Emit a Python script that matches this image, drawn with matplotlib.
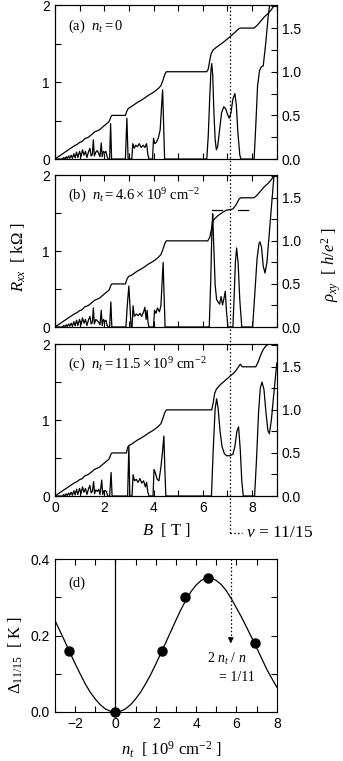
import matplotlib
matplotlib.use("Agg")
import matplotlib.pyplot as plt
from matplotlib.ticker import MultipleLocator
from matplotlib.lines import Line2D

plt.rcParams['font.family'] = ['Liberation Sans', 'DejaVu Sans']
plt.rcParams['font.size'] = 10
plt.rcParams['mathtext.fontset'] = 'custom'
plt.rcParams['mathtext.rm'] = 'Liberation Serif'
plt.rcParams['mathtext.it'] = 'Liberation Serif:italic'
plt.rcParams['mathtext.bf'] = 'Liberation Serif:bold'
plt.rcParams['axes.linewidth'] = 0.8

SERIF = ['Liberation Serif', 'DejaVu Serif']

# ---- data: (B [T], value) pairs ----
# Rxx [kOhm], common low-field part
rxx_low = [(0.0, 0.0), (0.3, 0.0), (0.36, 0.02), (0.4, 0.0), (0.46, 0.03), (0.5, 0.005),
           (0.56, 0.04), (0.6, 0.01), (0.66, 0.05), (0.71, 0.01), (0.77, 0.07), (0.82, 0.015),
           (0.88, 0.09), (0.93, 0.02), (1.0, 0.1), (1.06, 0.03), (1.12, 0.12), (1.18, 0.05),
           (1.24, 0.1), (1.3, 0.02), (1.36, 0.09), (1.42, 0.14), (1.47, 0.04), (1.52, 0.06)]

rxx_a = rxx_low + [
    (1.56, 0.25), (1.6, 0.04), (1.66, 0.09), (1.72, 0.11), (1.78, 0.07), (1.83, 0.03),
    (1.88, 0.21), (1.92, 0.03), (1.97, 0.1), (2.02, 0.08), (2.07, 0.1), (2.12, 0.03),
    (2.16, 0.0), (2.22, 0.0), (2.26, 0.46), (2.3, 0.0), (2.86, 0.0), (2.92, 0.53),
    (2.97, 0.0), (3.12, 0.0), (3.16, 0.2), (3.22, 0.14), (3.28, 0.18), (3.35, 0.16),
    (3.42, 0.2), (3.5, 0.15), (3.58, 0.18), (3.65, 0.15), (3.72, 0.2), (3.77, 0.06),
    (3.82, 0.0), (3.96, 0.0), (4.0, 0.27), (4.05, 0.2), (4.12, 0.22), (4.2, 0.28),
    (4.27, 0.38), (4.32, 0.65), (4.37, 0.9), (4.41, 0.45), (4.45, 0.0), (6.16, 0.0),
    (6.22, 0.3), (6.28, 0.8), (6.33, 1.15), (6.36, 1.24), (6.4, 1.1), (6.45, 0.6),
    (6.5, 0.25), (6.55, 0.12), (6.6, 0.16), (6.68, 0.38), (6.76, 0.6), (6.85, 0.68),
    (6.93, 0.65), (7.0, 0.58), (7.07, 0.53), (7.14, 0.6), (7.22, 0.78), (7.3, 0.85),
    (7.36, 0.7), (7.42, 0.35), (7.5, 0.05), (7.55, 0.0), (8.08, 0.0), (8.15, 0.45),
    (8.22, 0.95), (8.3, 1.15), (8.38, 1.2), (8.45, 1.21), (8.55, 1.5), (8.65, 1.85),
    (8.75, 2.1)]

rxx_b = rxx_low + [
    (1.56, 0.25), (1.6, 0.04), (1.66, 0.1), (1.72, 0.08), (1.78, 0.06), (1.83, 0.03),
    (1.88, 0.22), (1.92, 0.02), (1.97, 0.1), (2.02, 0.07), (2.07, 0.09), (2.12, 0.02),
    (2.16, 0.0), (2.22, 0.0), (2.27, 0.33), (2.31, 0.0), (2.88, 0.0), (2.94, 0.3),
    (3.0, 0.54), (3.05, 0.25), (3.09, 0.0), (3.13, 0.0), (3.17, 0.28), (3.22, 0.14),
    (3.3, 0.17), (3.38, 0.15), (3.45, 0.18), (3.52, 0.14), (3.6, 0.2), (3.65, 0.26),
    (3.7, 0.1), (3.74, 0.22), (3.78, 0.05), (3.82, 0.0), (4.0, 0.0), (4.04, 0.22),
    (4.1, 0.18), (4.16, 0.25), (4.24, 0.2), (4.3, 0.28), (4.35, 0.6), (4.39, 0.85),
    (4.43, 0.4), (4.47, 0.0), (6.26, 0.0), (6.32, 0.6), (6.37, 1.3), (6.4, 1.49),
    (6.44, 1.1), (6.5, 0.55), (6.56, 0.36), (6.62, 0.33), (6.68, 0.3), (6.74, 0.4),
    (6.8, 0.29), (6.86, 0.38), (6.91, 0.47), (6.96, 0.2), (7.02, 0.0), (7.22, 0.0),
    (7.27, 0.4), (7.32, 0.85), (7.37, 1.04), (7.43, 0.85), (7.5, 0.35), (7.58, 0.0),
    (8.02, 0.0), (8.1, 0.4), (8.2, 0.9), (8.28, 1.1), (8.32, 1.12), (8.38, 1.05),
    (8.45, 0.8), (8.52, 0.71), (8.6, 0.85), (8.7, 1.25), (8.8, 1.65), (8.9, 2.05)]

rxx_c = rxx_low + [
    (1.57, 0.19), (1.61, 0.03), (1.66, 0.08), (1.72, 0.06), (1.78, 0.09), (1.83, 0.02),
    (1.9, 0.21), (1.94, 0.02), (1.99, 0.07), (2.04, 0.07), (2.09, 0.06), (2.14, 0.0),
    (2.22, 0.0), (2.28, 0.31), (2.32, 0.0), (2.95, 0.0), (3.0, 0.65), (3.04, 0.0),
    (3.13, 0.0), (3.17, 0.28), (3.23, 0.2), (3.3, 0.22), (3.37, 0.18), (3.45, 0.23),
    (3.52, 0.17), (3.6, 0.2), (3.67, 0.12), (3.72, 0.18), (3.77, 0.05), (3.82, 0.0),
    (3.98, 0.0), (4.02, 0.35), (4.08, 0.3), (4.15, 0.22), (4.22, 0.2), (4.3, 0.38),
    (4.37, 0.6), (4.42, 0.79), (4.46, 0.35), (4.5, 0.0), (6.35, 0.0), (6.42, 0.6),
    (6.5, 1.15), (6.56, 1.28), (6.62, 1.15), (6.7, 0.85), (6.78, 0.65), (6.87, 0.56),
    (6.96, 0.53), (7.1, 0.53), (7.22, 0.55), (7.3, 0.65), (7.38, 0.85), (7.45, 0.91),
    (7.52, 0.6), (7.58, 0.2), (7.64, 0.0), (8.1, 0.0), (8.18, 0.5), (8.26, 1.1),
    (8.33, 1.42), (8.4, 1.5), (8.48, 1.4), (8.56, 1.1), (8.64, 0.86), (8.7, 0.82),
    (8.78, 1.0), (8.88, 1.35), (9.0, 1.75)]

# rho_xy [h/e^2]
rho_low = [(0.0, 0.0), (0.80, 0.154), (0.90, 0.167), (1.00, 0.19), (1.10, 0.2),
           (1.22, 0.235), (1.36, 0.25), (1.62, 0.312), (1.80, 0.333), (2.20, 0.43),
           (2.28, 0.49), (2.32, 0.5)]
rho_mid = [(3.1, 0.6), (3.35, 0.65), (3.45, 0.665), (3.62, 0.695), (3.72, 0.715),
           (3.82, 0.735), (3.92, 0.75), (4.05, 0.775), (4.2, 0.81), (4.3, 0.84),
           (4.38, 0.9), (4.46, 0.97), (4.52, 1.0)]

rho_a = rho_low + [(2.86, 0.5), (2.92, 0.55), (2.98, 0.58)] + rho_mid + [
    (6.16, 1.0), (6.22, 1.03), (6.28, 1.13), (6.34, 1.21), (6.42, 1.25), (6.55, 1.28),
    (6.8, 1.33), (7.1, 1.40), (7.3, 1.45), (7.45, 1.49), (7.52, 1.5), (8.08, 1.5),
    (8.2, 1.53), (8.35, 1.58), (8.5, 1.63), (8.62, 1.66), (8.75, 1.7), (8.9, 1.76), (9.0, 1.8)]

rho_b = rho_low + [(2.86, 0.5), (2.93, 0.56), (3.0, 0.59)] + rho_mid + [
    (6.2, 1.0), (6.28, 1.04), (6.34, 1.12), (6.4, 1.22), (6.46, 1.25), (6.6, 1.29),
    (6.8, 1.33), (6.95, 1.355), (7.22, 1.37), (7.35, 1.42), (7.48, 1.49), (7.55, 1.5),
    (8.08, 1.5), (8.2, 1.53), (8.35, 1.58), (8.5, 1.63), (8.62, 1.66), (8.75, 1.7),
    (8.9, 1.76), (9.0, 1.8)]

rho_c = rho_low + [(2.9, 0.5), (2.96, 0.57), (3.02, 0.59)] + rho_mid + [
    (6.36, 1.0), (6.42, 1.08), (6.48, 1.19), (6.55, 1.24), (6.7, 1.29), (6.9, 1.34),
    (7.1, 1.39), (7.3, 1.44), (7.45, 1.5), (7.52, 1.53), (7.6, 1.5), (8.15, 1.5),
    (8.25, 1.56), (8.35, 1.64), (8.45, 1.70), (8.55, 1.74), (8.7, 1.77), (9.0, 1.78)]

panel_labels = ["(a)  $n_t = 0$",
                "(b)  $n_t = 4.6 \\times 10^9$ cm$^{-2}$",
                "(c)  $n_t = 11.5 \\times 10^9$ cm$^{-2}$"]

nu_B = 7.11            # field of nu = 11/15
rho_11_15 = 15 / 11    # h/e^2
dash_b = [(6.39, 6.79), (7.44, 7.84)]

# panel (d): gap vs n_t
nt_pts = [-2.3, 0.0, 2.3, 3.45, 4.6, 6.9]
gap_pts = [0.16, 0.0, 0.16, 0.30, 0.35, 0.18]
nt_fit = [-3.0, -2.75, -2.5, -2.25, -2.0, -1.75, -1.5, -1.25, -1.0, -0.75, -0.5, -0.25,
          0.0, 0.25, 0.5, 0.75, 1.0, 1.25, 1.5, 1.75, 2.0, 2.25, 2.5, 2.75, 3.0, 3.25,
          3.5, 3.75, 4.0, 4.25, 4.5, 4.75, 5.0, 5.25, 5.5, 5.75, 6.0, 6.25, 6.5, 6.75,
          7.0, 7.25, 7.5, 7.75, 8.0]
gap_fit = [0.240, 0.212, 0.184, 0.155, 0.127, 0.100, 0.074, 0.052, 0.034, 0.019, 0.008,
           0.002, 0.0, 0.002, 0.008, 0.019, 0.034, 0.052, 0.074, 0.098, 0.125, 0.153,
           0.182, 0.211, 0.240, 0.268, 0.293, 0.315, 0.332, 0.344, 0.350, 0.350, 0.344,
           0.333, 0.317, 0.296, 0.272, 0.248, 0.222, 0.195, 0.168, 0.140, 0.112, 0.088,
           0.065]
nt_arrow = 5.72
gap_arrow = 0.172

# ---- figure ----
fig = plt.figure(figsize=(3.43, 7.61), dpi=100)
left, width = 0.160, 0.647
boxes = [[left, 0.791, width, 0.2024], [left, 0.5703, width, 0.1997],
         [left, 0.3482, width, 0.1997]]
rxx_all = [rxx_a, rxx_b, rxx_c]
rho_all = [rho_a, rho_b, rho_c]
RHO_TOP = 1.764

axes = []
for i in range(3):
    ax = fig.add_axes(boxes[i])
    bx, ry = zip(*rxx_all[i])
    ax.plot(bx, ry, color='k', lw=0.9)
    ax.set_xlim(0, 9)
    ax.set_ylim(0, 2)
    ax.xaxis.set_major_locator(MultipleLocator(2))
    ax.xaxis.set_minor_locator(MultipleLocator(1))
    ax.yaxis.set_major_locator(MultipleLocator(1))
    ax.yaxis.set_minor_locator(MultipleLocator(0.5))
    ax.tick_params(which='both', direction='in', top=True, right=False, length=4, width=0.8)
    if i < 2:
        ax.tick_params(labelbottom=False)

    ax2 = ax.twinx()
    bx2, rh = zip(*rho_all[i])
    ax2.plot(bx2, rh, color='k', lw=0.9)
    ax2.set_ylim(0, RHO_TOP)
    ax2.yaxis.set_major_locator(MultipleLocator(0.5))
    ax2.yaxis.set_minor_locator(MultipleLocator(0.25))
    ax2.yaxis.set_major_formatter(plt.FormatStrFormatter('%.1f'))
    ax2.tick_params(which='both', direction='in', length=4, width=0.8)

    ax.text(0.06, 0.86, panel_labels[i], transform=ax.transAxes, fontfamily=SERIF,
            fontsize=10.5, va='center')
    if i == 1:
        # dashes marking rho = 15/11 h/e^2
        for x0, x1 in dash_b:
            ax2.plot([x0, x1], [rho_11_15, rho_11_15], color='k', lw=0.9)
    axes.append(ax)

ax_c = axes[2]

# dotted line at nu = 11/15 through the three panels
inv = fig.transFigure.inverted()
xf = inv.transform(ax_c.transData.transform((nu_B, 0)))[0]
y_top = boxes[0][1] + boxes[0][3]
y_bot = 0.2996
fig.add_artist(Line2D([xf, xf], [y_bot, y_top], color='k', lw=0.9, ls=(0, (1.2, 1.8))))
fig.add_artist(Line2D([xf, xf + 0.035], [y_bot, y_bot], color='k', lw=0.9, ls=(0, (1.2, 1.8))))
fig.text(xf + 0.045, y_bot, "$\\nu$ = 11/15", fontfamily=SERIF, fontsize=12.5, va='center')

fig.text(0.485, 0.3035, "$B$  [ T ]", fontfamily=SERIF, fontsize=12, ha='center', va='center')
fig.text(0.055, 0.662, "$R_{xx}$  [ kΩ ]", fontfamily=SERIF, fontsize=12, rotation=90,
         ha='center', va='center')
fig.text(0.965, 0.652, "$\\rho_{xy}$  [ $h/e^2$ ]", fontfamily=SERIF, fontsize=12, rotation=90,
         ha='center', va='center')

# ---- panel (d) ----
axd = fig.add_axes([left, 0.0644, width, 0.201])
axd.plot(nt_fit, gap_fit, color='k', lw=0.9)
axd.plot(nt_pts, gap_pts, 'o', color='k', ms=6.5, clip_on=False, zorder=5)
axd.plot([0, 0], [0, 0.4], color='k', lw=0.9)
axd.plot([nt_arrow, nt_arrow], [0.4, gap_arrow + 0.02], color='k', lw=0.9, ls=(0, (1.2, 1.8)))
axd.annotate('', xy=(nt_arrow, gap_arrow), xytext=(nt_arrow, gap_arrow + 0.025),
             arrowprops=dict(arrowstyle='-|>', color='k', lw=0.8, mutation_scale=8))
axd.text(5.5, 0.14, "2 $n_t$ / $n$", fontfamily=SERIF, fontsize=10, ha='center', va='center')
axd.text(6.0, 0.09, "= 1/11", fontfamily=SERIF, fontsize=10, ha='center', va='center')
axd.text(0.06, 0.84, "(d)", transform=axd.transAxes, fontfamily=SERIF, fontsize=10.5,
         va='center')
axd.set_xlim(-3, 8)
axd.set_ylim(0, 0.4)
axd.xaxis.set_major_locator(MultipleLocator(2))
axd.xaxis.set_minor_locator(MultipleLocator(1))
axd.yaxis.set_major_locator(MultipleLocator(0.2))
axd.yaxis.set_minor_locator(MultipleLocator(0.1))
axd.yaxis.set_major_formatter(plt.FormatStrFormatter('%.1f'))
axd.tick_params(which='both', direction='in', top=True, right=True, length=4, width=0.8)
fig.text(0.045, 0.14, "$\\Delta_{11/15}$  [ K ]", fontfamily=SERIF, fontsize=12, rotation=90,
         ha='center', va='center')
fig.text(0.5, 0.014, "$n_t$  [ $10^9$ cm$^{-2}$ ]", fontfamily=SERIF, fontsize=12,
         ha='center', va='center')

fig.savefig("out.png", dpi=100)
